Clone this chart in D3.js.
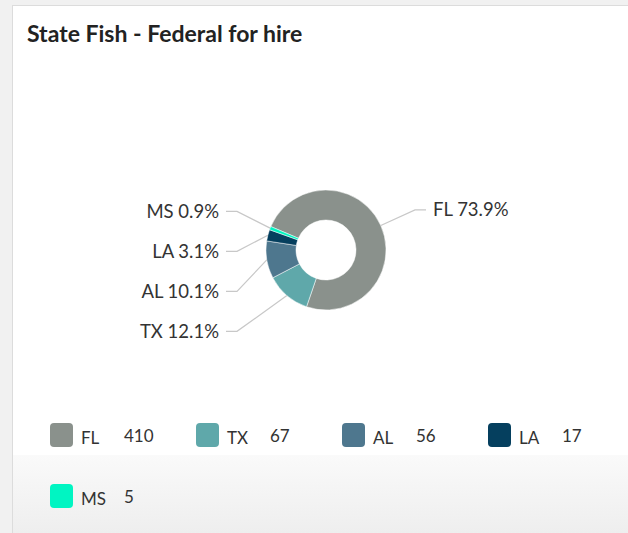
<!DOCTYPE html>
<html>
<head>
<meta charset="utf-8">
<script src="https://cdn.jsdelivr.net/npm/d3@7"></script>
<style>
  body { margin: 0; background: #f0f0f0; }
  svg { display: block; font-family: Lato, "Open Sans", sans-serif; }
</style>
</head>
<body>
<svg id="chart" width="628" height="533"></svg>
<script>
// data
var states = ["FL", "TX", "AL", "LA", "MS"];
var counts = [410, 67, 56, 17, 5];
var colors = ["#8a918c", "#5fa8aa", "#4e778e", "#053f5e", "#00f5c2"];
var title = "State Fish - Federal for hire";

var width = 628, height = 533;
var svg = d3.select("#chart");

// page / card background
var defs = svg.append("defs");
var grad = defs.append("linearGradient").attr("id", "bottomFade")
    .attr("x1", 0).attr("y1", 0).attr("x2", 0).attr("y2", 1);
grad.append("stop").attr("offset", "0%").attr("stop-color", "#fafafa");
grad.append("stop").attr("offset", "100%").attr("stop-color", "#eeeeee");

svg.append("rect").attr("width", width).attr("height", height).attr("fill", "#f1f1f1");
svg.append("rect").attr("x", 12.5).attr("y", 5.5).attr("width", width).attr("height", 460)
    .attr("fill", "#fff").attr("stroke", "#dcdcdc");
svg.append("rect").attr("x", 13).attr("y", 455).attr("width", width).attr("height", height - 455)
    .attr("fill", "url(#bottomFade)");
svg.append("line").attr("x1", 12.5).attr("x2", 12.5).attr("y1", 455).attr("y2", height)
    .attr("stroke", "#dcdcdc");

svg.append("text")
    .attr("x", 27).attr("y", 42)
    .attr("font-size", 23).attr("font-weight", 700)
    .attr("fill", "#222")
    .text(title);

// donut
var cx = 326, cy = 250;
var rOuter = 60, rInner = 30;
var total = d3.sum(counts);
var startA = -67 * Math.PI / 180;

var pie = d3.pie().sort(null).startAngle(startA).endAngle(startA + 2 * Math.PI);
var arcs = pie(counts);
var arc = d3.arc().innerRadius(rInner).outerRadius(rOuter);

var g = svg.append("g").attr("transform", "translate(" + cx + "," + cy + ")");
g.selectAll("path.slice")
    .data(arcs)
    .enter()
    .append("path")
    .attr("class", "slice")
    .attr("d", arc)
    .attr("fill", function(d, i) { return colors[i]; })
    .attr("stroke", "#fff")
    .attr("stroke-width", 0.5);

// label layout: ideal y from mid angle, then spread so they don't overlap
var labelR = 106, elbowX = 89, tickLen = 11, minGap = 40;
var labels = arcs.map(function(d, i) {
    var mid = (d.startAngle + d.endAngle) / 2;
    return {
        i: i,
        mid: mid,
        side: Math.sin(mid) < 0 ? -1 : 1,
        y: -labelR * Math.cos(mid)
    };
});
[-1, 1].forEach(function(side) {
    var grp = labels.filter(function(l) { return l.side === side; })
        .sort(function(a, b) { return a.y - b.y; });
    for (var k = 1; k < grp.length; k++) {
        if (grp[k].y < grp[k - 1].y + minGap) grp[k].y = grp[k - 1].y + minGap;
    }
});

var fmt = d3.format(".1f");
labels.forEach(function(l) {
    var sx = rOuter * Math.sin(l.mid), sy = -rOuter * Math.cos(l.mid);
    var ex = l.side * elbowX;
    var tx = ex + l.side * tickLen;
    if (l.side > 0) l.y += 3;
    g.append("polyline")
        .attr("points", [[sx, sy], [ex, l.y], [tx, l.y]].map(function(p) { return p.join(","); }).join(" "))
        .attr("fill", "none")
        .attr("stroke", "#c8c8c8")
        .attr("stroke-width", 1.2);
    g.append("text")
        .attr("x", tx + l.side * 7)
        .attr("y", l.y)
        .attr("dy", "0.35em")
        .attr("text-anchor", l.side < 0 ? "end" : "start")
        .attr("font-size", 18.5)
        .attr("fill", "#333")
        .text(states[l.i] + " " + fmt(counts[l.i] / total * 100) + "%");
});

// legend
var perRow = 4, colW = 146, rowH = 61;
var legend = svg.append("g").attr("transform", "translate(50,423)");
var items = legend.selectAll("g.item")
    .data(states)
    .enter()
    .append("g")
    .attr("class", "item")
    .attr("transform", function(d, i) {
        return "translate(" + (i % perRow) * colW + "," + Math.floor(i / perRow) * rowH + ")";
    });
items.append("rect")
    .attr("width", 23).attr("height", 24).attr("rx", 4)
    .attr("fill", function(d, i) { return colors[i]; });
items.append("text")
    .attr("x", 31).attr("y", 21)
    .attr("font-size", 17).attr("fill", "#333")
    .text(function(d) { return d; });
items.append("text")
    .attr("x", 74).attr("y", 19)
    .attr("font-size", 17).attr("fill", "#333")
    .text(function(d, i) { return counts[i]; });
</script>
</body>
</html>
